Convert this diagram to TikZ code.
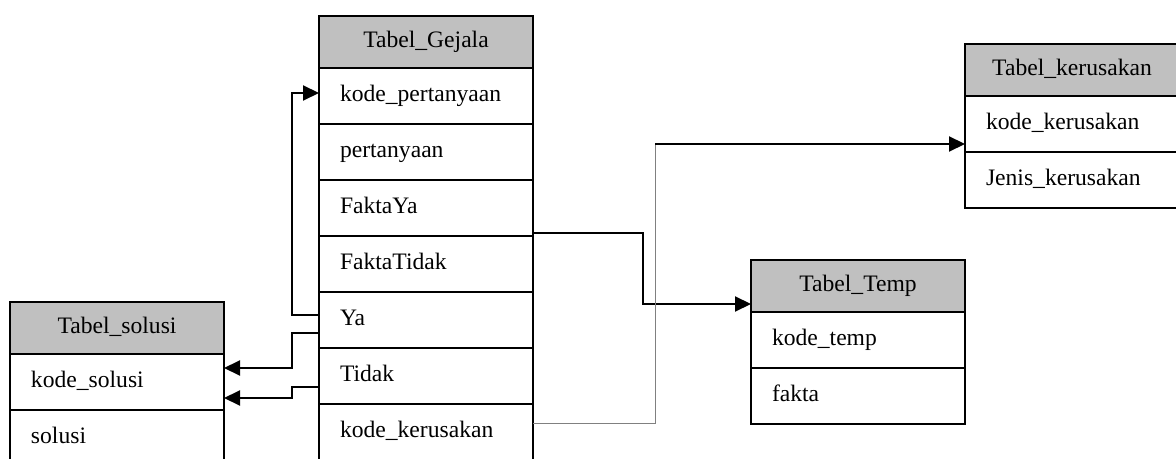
\documentclass[tikz,border=0pt]{standalone}
\usepackage{fontspec}
\setmainfont{Liberation Serif}
\usepackage{tikz}
\usetikzlibrary{arrows.meta,positioning}
\definecolor{hdrgray}{HTML}{C0C0C0}

\begin{document}
\begin{tikzpicture}[
  x=0.5pt, y=-0.5pt,
  node distance=0pt,
  every node/.style={font=\fontsize{11.8}{14}\selectfont, outer sep=0pt, inner ysep=0pt, text height=8pt, text depth=2.6pt},
  head/.style={draw, line width=0.75pt, fill=hdrgray, text width=86pt, inner xsep=10.5pt, minimum height=26pt, align=center},
  field/.style={draw, line width=0.75pt, fill=white, text width=86pt, inner xsep=10.5pt, minimum height=28pt, align=left},
  link/.style={-{Triangle[length=8pt, width=7.5pt]}, line width=1pt},
  faint/.style={line width=0.5pt, draw=gray}
]
\useasboundingbox (0,0) rectangle (1176,459);
\clip (0,0) rectangle (1176,459);

\node[head, anchor=north west] (gejala) at (319,16) {Tabel\_Gejala};
\node[field, below=of gejala] (kodetanya) {kode\_pertanyaan};
\node[field, below=of kodetanya] (tanya) {pertanyaan};
\node[field, below=of tanya] (faktaya) {FaktaYa};
\node[field, below=of faktaya] (faktatidak) {FaktaTidak};
\node[field, below=of faktatidak] (ya) {Ya};
\node[field, below=of ya] (tidak) {Tidak};
\node[field, below=of tidak] (kodekrs) {kode\_kerusakan};

\node[head, anchor=north west] (solusi) at (10,302) {Tabel\_solusi};
\node[field, below=of solusi] (kodesolusi) {kode\_solusi};
\node[field, below=of kodesolusi] (isisolusi) {solusi};

\node[head, anchor=north west] (kerusakan) at (965,44) {Tabel\_kerusakan};
\node[field, below=of kerusakan] (kodekerusakan) {kode\_kerusakan};
\node[field, below=of kodekerusakan] (jenis) {Jenis\_kerusakan};

\node[head, anchor=north west] (temp) at (751,260) {Tabel\_Temp};
\node[field, below=of temp] (kodetemp) {kode\_temp};
\node[field, below=of kodetemp] (fakta) {fakta};

\draw[link] ([yshift=2.5pt]ya.west) -- ++(-13.5pt,0) |- ([yshift=1.5pt]kodetanya.west);
\draw[link] ([yshift=-6.5pt]ya.west) -- ++(-13.5pt,0) |- ([yshift=7pt]kodesolusi.east);
\draw[link] ([yshift=-5.5pt]tidak.west) -- ++(-13.5pt,0) |- ([yshift=-8pt]kodesolusi.east);
\draw[link] ([yshift=-12.5pt]faktaya.east) -- ++(55pt,0) |- ([yshift=-9pt]temp.west);

\path ([yshift=4.5pt]kodekrs.east) -- ++(61pt,0) coordinate (elbow);
\coordinate (krsin) at ([yshift=-10pt]kodekerusakan.west);
\draw[faint] ([yshift=4.5pt]kodekrs.east) -- (elbow) -- (elbow |- krsin);
\draw[link] (elbow |- krsin) -- (krsin);
\end{tikzpicture}
\end{document}
